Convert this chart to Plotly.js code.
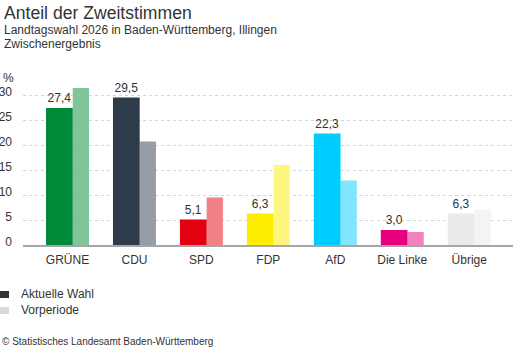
<!DOCTYPE html>
<html>
<head>
<meta charset="utf-8">
<script src="https://cdn.plot.ly/plotly-3.0.1.min.js"></script>
<style>html,body{margin:0;padding:0;background:#fff;}#chart{width:513px;height:352px;}</style>
</head>
<body>
<div id="chart"></div>
<script>
const parties = ['GRÜNE', 'CDU', 'SPD', 'FDP', 'AfD', 'Die Linke', 'Übrige'];
const currentValues = [27.4, 29.5, 5.1, 6.3, 22.3, 3.0, 6.3];
const previousValues = [31.4, 20.7, 9.5, 16.0, 12.9, 2.6, 7.1];
const currentColors = ['#008939', '#2d3b4b', '#e3000f', '#ffed00', '#00ccff', '#e6007e', '#ebebeb'];
const previousColors = ['#80c49c', '#969da5', '#f18087', '#fff680', '#80e6ff', '#f380bf', '#f4f4f4'];
const yTicks = [0, 5, 10, 15, 20, 25, 30];
const legendLabels = ['Aktuelle Wahl', 'Vorperiode'];
const legendColors = ['#333333', '#d9d9d9'];

const FONT = 'Liberation Sans, Arial, sans-serif';
const TXT = '#333333';

const traces = [
  {
    type: 'bar', x: parties, y: previousValues,
    width: 0.243, offset: 0.078,
    marker: {color: previousColors},
    hoverinfo: 'skip', showlegend: false
  },
  {
    type: 'bar', x: parties, y: currentValues,
    width: 0.399, offset: -0.321,
    marker: {color: currentColors},
    texttemplate: '%{y:.1f}', textposition: 'outside',
    textfont: {family: FONT, size: 12, color: TXT},
    cliponaxis: false, constraintext: 'none',
    hoverinfo: 'skip', showlegend: false
  }
];

function note(text, xs, ys, size, anchor) {
  return {text: text, xref: 'paper', yref: 'paper', x: 0, y: 0, xshift: xs, yshift: ys,
    xanchor: anchor || 'left', yanchor: 'middle', showarrow: false,
    font: {family: FONT, size: size, color: TXT}};
}
// plot area origin (paper 0,0) is at pixel (23, 245)
const annotations = [
  note('Anteil der Zweitstimmen', -21, 232, 17.6),
  note('Landtagswahl 2026 in Baden-Württemberg, Illingen', -21, 215.5, 12),
  note('Zwischenergebnis', -21, 201.5, 12),
  note('%', -15, 167, 12, 'center'),
  note(legendLabels[0], -4, -49, 12),
  note(legendLabels[1], -4, -65, 12),
  note('© Statistisches Landesamt Baden-Württemberg', -23, -96, 10)
];
const shapes = legendColors.map((c, i) => ({
  type: 'rect', xref: 'paper', yref: 'paper', xsizemode: 'pixel', ysizemode: 'pixel',
  xanchor: 0, yanchor: 0, x0: -23, x1: -14, y0: -46 - 16 * i, y1: -53 - 16 * i,
  line: {width: 0}, fillcolor: c
}));

const layout = {
  width: 513, height: 352,
  margin: {l: 23, r: 0, t: 82, b: 107, pad: 0},
  paper_bgcolor: '#ffffff', plot_bgcolor: '#ffffff',
  font: {family: FONT, color: TXT, size: 12},
  separators: ',.',
  barmode: 'overlay',
  showlegend: false,
  xaxis: {
    type: 'category', range: [-0.665, 6.654], showgrid: false,
    showline: true, linecolor: '#a6a6a6', linewidth: 1.5,
    ticks: '', ticklabelstandoff: 3, tickfont: {size: 12, color: TXT}, fixedrange: true
  },
  yaxis: {
    range: [0, 32.6], tickvals: yTicks, showgrid: true,
    gridcolor: '#d4d4d4', griddash: 'dot', gridwidth: 1,
    zeroline: false, showline: false, ticks: '',
    ticklabelstandoff: 10, ticklabelshift: -3,
    tickfont: {size: 12, color: TXT}, fixedrange: true
  },
  annotations: annotations,
  shapes: shapes
};

Plotly.newPlot('chart', traces, layout, {displayModeBar: false, staticPlot: true});
</script>
</body>
</html>
